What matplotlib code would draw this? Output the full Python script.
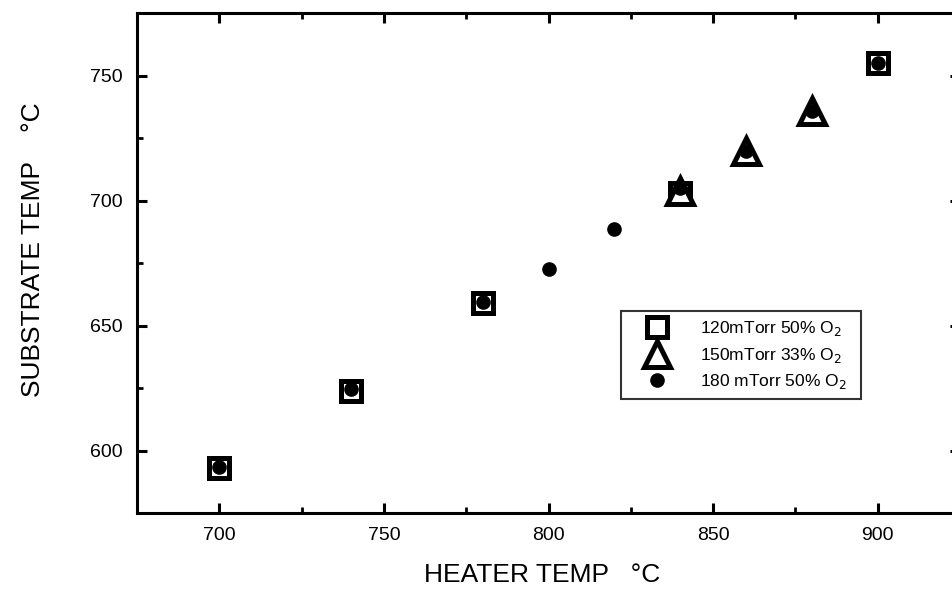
import matplotlib
matplotlib.use("Agg")
import matplotlib.pyplot as plt
from matplotlib.ticker import MultipleLocator

plt.rcParams['font.family'] = ['Liberation Sans', 'DejaVu Sans']

# Data
sq_x = [700, 740, 780, 840, 900]
sq_y = [593, 624, 659, 703, 755]
tri_x = [840, 860, 880]
tri_y = [704, 720, 736]
circ_x = [700, 740, 780, 800, 820, 840, 860, 880, 900]
circ_y = [593.5, 624.5, 659.5, 672.5, 688.5, 705, 720, 736, 755]
labels = ["120mTorr 50% O$_2$  ", "150mTorr 33% O$_2$  ", "180 mTorr 50% O$_2$  "]

fig = plt.figure(figsize=(9.52, 5.90), dpi=100)
ax = fig.add_axes([137/952, 1-513/590, (960-137)/952, (513-13)/590])

ax.plot(sq_x, sq_y, linestyle='none', marker='s', markersize=14.5,
        markerfacecolor='white', markeredgecolor='black', markeredgewidth=3.6,
        label=labels[0], zorder=3)
ax.plot(tri_x, tri_y, linestyle='none', marker='^', markersize=18.5,
        markerfacecolor='white', markeredgecolor='black', markeredgewidth=3.6,
        label=labels[1], zorder=4)
ax.plot(circ_x, circ_y, linestyle='none', marker='o', markersize=9.5,
        markerfacecolor='black', markeredgecolor='black',
        label=labels[2], zorder=5)

ax.set_xlim(675, 925)
ax.set_ylim(575, 775)
ax.xaxis.set_major_locator(MultipleLocator(50))
ax.xaxis.set_minor_locator(MultipleLocator(25))
ax.yaxis.set_major_locator(MultipleLocator(50))
ax.yaxis.set_minor_locator(MultipleLocator(25))

for s in ax.spines.values():
    s.set_linewidth(2.2)

ax.tick_params(which='major', direction='in', length=7, width=2.2,
               top=True, right=True, labelsize=14, pad=10)
ax.tick_params(which='minor', direction='in', length=4.5, width=2.0,
               top=True, right=False)

ax.set_xlabel("HEATER TEMP   \u00b0C", fontsize=19)
ax.set_ylabel("SUBSTRATE TEMP    \u00b0C", fontsize=19)
ax.xaxis.set_label_coords((542-137)/823, (513-563)/500)
ax.yaxis.set_label_coords((45-137)/823, 0.526)

leg = ax.legend(loc='upper left', bbox_to_anchor=((621-137)/823, 1-(311-13)/500),
                frameon=True, fancybox=False, fontsize=12.5, handlelength=3.2,
                handletextpad=0.9, labelspacing=0.45, borderpad=0.45,
                borderaxespad=0)
leg.get_frame().set_edgecolor('black')
leg.get_frame().set_linewidth(1.5)

fig.savefig("out.png", dpi=100)
